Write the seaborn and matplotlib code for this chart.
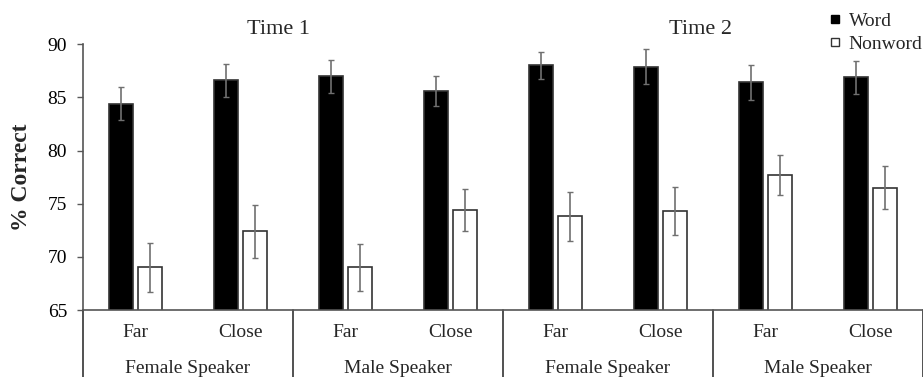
import matplotlib
matplotlib.use("Agg")
import matplotlib.pyplot as plt
import matplotlib.transforms as mtransforms
from matplotlib.lines import Line2D
import numpy as np
import pandas as pd
import seaborn as sns

# ---- data ----
times = ["Time 1", "Time 1", "Time 1", "Time 1", "Time 2", "Time 2", "Time 2", "Time 2"]
speakers = ["Female Speaker", "Female Speaker", "Male Speaker", "Male Speaker",
            "Female Speaker", "Female Speaker", "Male Speaker", "Male Speaker"]
distance = ["Far", "Close", "Far", "Close", "Far", "Close", "Far", "Close"]

word_mean = [84.4, 86.6, 87.0, 85.6, 88.0, 87.9, 86.4, 86.9]
word_err = [1.55, 1.55, 1.55, 1.45, 1.3, 1.65, 1.65, 1.55]
nonword_mean = [69.0, 72.4, 69.0, 74.4, 73.8, 74.3, 77.7, 76.5]
nonword_err = [2.3, 2.5, 2.2, 2.0, 2.3, 2.25, 1.9, 2.0]

groups = [f"{t}|{s}|{d}" for t, s, d in zip(times, speakers, distance)]

df = pd.DataFrame({
    "group": groups * 2,
    "type": ["Word"] * 8 + ["Nonword"] * 8,
    "pct": word_mean + nonword_mean,
})

# ---- style ----
sns.set_theme(style="white")
plt.rcParams["font.family"] = ["Liberation Serif", "DejaVu Serif"]

fig = plt.figure(figsize=(9.23, 3.77), dpi=100)
ax = fig.add_axes([0.0899, 0.1777, 0.9101, 0.705])

sns.barplot(data=df, x="group", y="pct", hue="type", order=groups,
            hue_order=["Word", "Nonword"],
            palette={"Word": "black", "Nonword": "white"},
            width=0.562, gap=0.2, edgecolor="#333333", linewidth=1.2,
            errorbar=None, legend=False, ax=ax)

# error bars on top of seaborn's bars
for cont, errs in zip(ax.containers, [word_err, nonword_err]):
    xs = [b.get_x() + b.get_width() / 2 for b in cont]
    ys = [b.get_height() for b in cont]
    ax.errorbar(xs, ys, yerr=errs, fmt="none", ecolor="#707070",
                elinewidth=1.2, capsize=2.5, capthick=1.0, zorder=5)

ax.set_ylim(65, 90)
ax.set_xlim(-0.5, 7.5)
ax.set_yticks([65, 70, 75, 80, 85, 90])
ax.tick_params(axis="y", which="both", left=True, length=4.5, width=1,
               color="#595959", labelsize=14, pad=7, labelcolor="black")
ax.set_xticks([])
ax.set_xlabel("")
ax.set_ylabel("% Correct", fontsize=17, fontweight="bold")
ax.yaxis.set_label_coords(-0.061, 0.5)

for side in ["top", "right"]:
    ax.spines[side].set_visible(False)
for side in ["left", "bottom"]:
    ax.spines[side].set_color("#555555")
    ax.spines[side].set_linewidth(1.2)

# two-level category labels below the axis
trans = mtransforms.blended_transform_factory(ax.transData, ax.transAxes)
for i, d in enumerate(distance):
    ax.text(i, -0.085, d, transform=trans, ha="center", va="center", fontsize=14)
for i in range(0, 8, 2):
    ax.text(i + 0.5, -0.22, speakers[i], transform=trans, ha="center",
            va="center", fontsize=14)
for xb in [-0.5, 1.5, 3.5, 5.5, 7.5]:
    ax.plot([xb, xb], [0, -0.26], transform=trans, color="#333333",
            lw=1.2, clip_on=False)

# time titles
ax.text(1.36, 1.055, "Time 1", transform=trans, ha="center", va="center", fontsize=16)
ax.text(5.38, 1.055, "Time 2", transform=trans, ha="center", va="center", fontsize=16)

# legend
handles = [
    Line2D([], [], marker="s", linestyle="none", markersize=5.5,
           markerfacecolor="black", markeredgecolor="black"),
    Line2D([], [], marker="s", linestyle="none", markersize=5.5,
           markerfacecolor="white", markeredgecolor="#333333"),
]
fig.legend(handles, ["Word", "Nonword"], loc="upper left",
           bbox_to_anchor=(0.886, 0.998), frameon=False, fontsize=14,
           handlelength=0.6, handletextpad=0.4, labelspacing=0.25,
           borderaxespad=0.2)

fig.savefig("out.png", dpi=100)
